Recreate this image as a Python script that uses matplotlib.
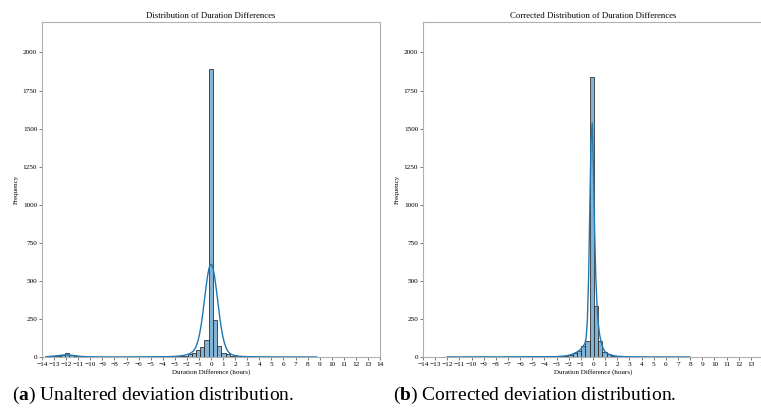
import numpy as np
import pandas as pd
import matplotlib.pyplot as plt
import seaborn as sns

plt.rcParams['font.family'] = ['Liberation Serif', 'DejaVu Serif']
plt.rcParams['mathtext.fontset'] = 'custom'
plt.rcParams['mathtext.bf'] = 'Liberation Serif:bold'

# (a) unaltered differences: histogram bins and counts
left_start = -13.84
left_width = 0.35
left_counts = [2, 3, 5, 8, 15, 24, 12, 5, 3, 2,
               1, 1, 1, 0, 1, 0, 1, 0, 1, 0,
               1, 0, 1, 1, 1, 1, 1, 1, 2, 2,
               3, 4, 6, 9, 17, 26, 44, 66, 113, 1890,
               240, 70, 26, 17, 9, 5, 3, 2, 2, 1,
               1, 1, 1, 0, 1, 0, 1, 0, 1, 0,
               0, 1, 0, 0, 1]

# (b) corrected differences
right_start = -12.17
right_width = 0.35
right_counts = [1, 1, 1, 0, 1, 1, 0, 1, 1, 1,
                1, 1, 0, 1, 1, 1, 1, 1, 1, 1,
                1, 1, 1, 1, 2, 2, 3, 5, 8, 14,
                26, 40, 72, 107, 1840, 335, 103, 33, 17, 9,
                5, 3, 2, 2, 1, 1, 1, 1, 0, 1,
                1, 0, 1, 0, 1, 0, 0, 1]

titles = ['Distribution of Duration Differences',
          'Corrected Distribution of Duration Differences']
captions = [r'($\mathbf{a}$) Unaltered deviation distribution.',
            r'($\mathbf{b}$) Corrected deviation distribution.']
x_ticks = list(range(-14, 15))
y_ticks = [0, 250, 500, 750, 1000, 1250, 1500, 1750, 2000]

fig = plt.figure(figsize=(7.61, 4.09), dpi=100)
W, H = 761, 409
ax1 = fig.add_axes([42 / W, 52 / H, 338 / W, 335 / H])
ax2 = fig.add_axes([423 / W, 52 / H, 340 / W, 335 / H])

panels = [(ax1, left_start, left_width, left_counts, 0.185),
          (ax2, right_start, right_width, right_counts, 0.152)]

for i, (ax, start, width, counts, bw) in enumerate(panels):
    n = len(counts)
    edges = start + width * np.arange(n + 1)
    df = pd.DataFrame({'diff': (edges[:-1] + edges[1:]) / 2,
                       'count': np.array(counts, dtype=float)})
    sns.histplot(data=df, x='diff', weights='count', binwidth=width,
                 binrange=(start, start + width * n), kde=True, ax=ax,
                 color='#1f77b4', alpha=0.55, edgecolor='#333333', linewidth=0.6,
                 kde_kws={'bw_adjust': bw}, line_kws={'linewidth': 1.0})
    ax.set_xlim(-14, 14)
    ax.set_ylim(0, 2200)
    ax.set_xticks(x_ticks)
    ax.set_yticks(y_ticks)
    ax.tick_params(labelsize=5.2, length=2, width=0.5, pad=1.5, color='#444444')
    for s in ax.spines.values():
        s.set_color('#b0b0b0')
        s.set_linewidth(0.8)
    ax.set_title(titles[i], fontsize=6.3, pad=3)
    ax.set_xlabel('Duration Difference (hours)', fontsize=5, labelpad=1.5)
    ax.set_ylabel('Frequency', fontsize=5, labelpad=3)

fig.text(12 / W, 1 - 400 / H, captions[0], fontsize=14, va='baseline', ha='left')
fig.text(393 / W, 1 - 400 / H, captions[1], fontsize=14, va='baseline', ha='left')

fig.savefig('out.png', dpi=100)
